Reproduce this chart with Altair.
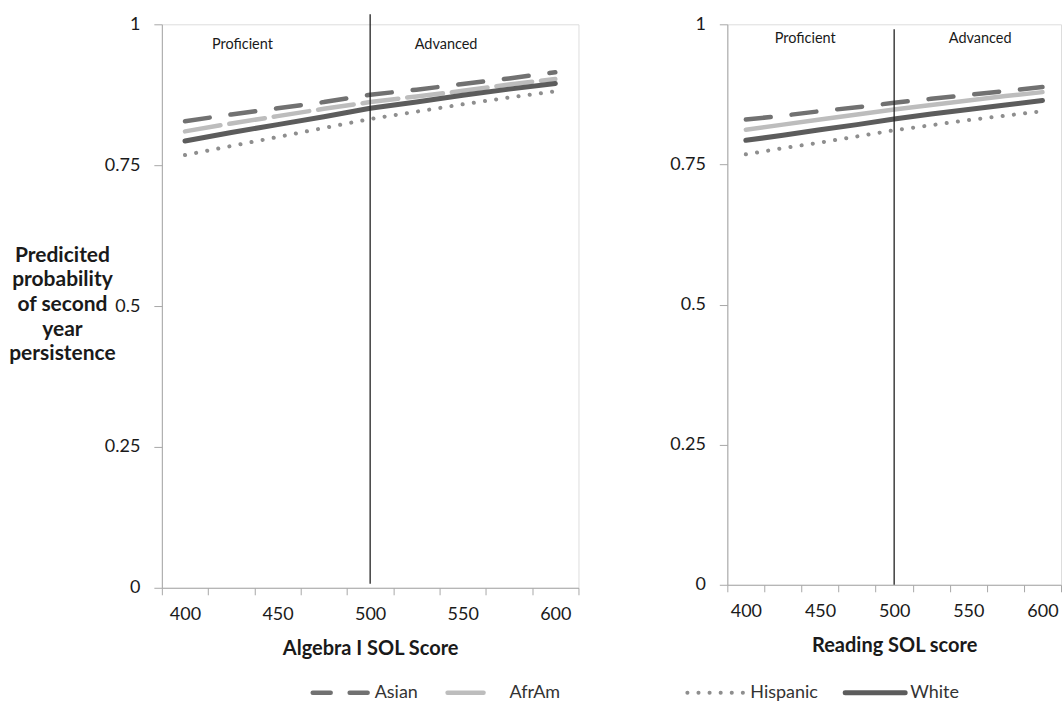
import altair as alt
import pandas as pd

# ---------------- data ----------------
scores = [400, 425, 450, 475, 500, 525, 550, 575, 600]
series = ["Asian", "AfrAm", "Hispanic", "White"]

alg_asian = [0.828, 0.840, 0.851, 0.862, 0.875, 0.884, 0.894, 0.904, 0.915]
alg_afram = [0.810, 0.824, 0.837, 0.850, 0.862, 0.872, 0.882, 0.893, 0.903]
alg_hisp = [0.768, 0.784, 0.800, 0.816, 0.832, 0.845, 0.858, 0.870, 0.881]
alg_white = [0.793, 0.808, 0.822, 0.836, 0.851, 0.862, 0.874, 0.885, 0.895]

read_asian = [0.830, 0.837, 0.845, 0.852, 0.860, 0.867, 0.874, 0.881, 0.888]
read_afram = [0.812, 0.821, 0.830, 0.839, 0.848, 0.856, 0.864, 0.872, 0.879]
read_hisp = [0.768, 0.779, 0.789, 0.800, 0.811, 0.820, 0.829, 0.837, 0.845]
read_white = [0.793, 0.802, 0.812, 0.821, 0.831, 0.840, 0.848, 0.856, 0.864]

x_tick_labels = [400, 450, 500, 550, 600]
y_ticks = [0, 0.25, 0.5, 0.75, 1]
cutoff = 500
band_labels = ["Proficient", "Advanced"]
alg_band_x = [431, 541]
alg_band_y = [0.963, 0.963]
read_band_x = [440, 558]
read_band_y = [0.973, 0.973]

left_title = "Algebra I SOL Score"
right_title = "Reading SOL score"
y_title = ["Predicited", "probability", "of second", "year", "persistence"]

# ---------------- style ----------------
FONT = "Lato"
TXT = "#1a1a1a"
AX = "#a8a8a8"
colors = {"Asian": "#717171", "AfrAm": "#bdbdbd", "Hispanic": "#8e8e8e", "White": "#5c5c5c"}
widths = {"Asian": 4.5, "AfrAm": 4.5, "Hispanic": 4, "White": 5}
dash_left = {"Asian": [25, 21], "AfrAm": [36, 9], "Hispanic": [0.1, 11.2], "White": None}
dash_right = {"Asian": [25, 21], "AfrAm": None, "Hispanic": [0.1, 11.2], "White": None}
LEG_Y = 669

step = 25
edges = [scores[0] - step / 2 + step * i for i in range(len(scores) + 1)]
x_domain = [edges[0], edges[-1]]


def x_axis(title):
    return alt.Axis(
        values=sorted(edges + x_tick_labels),
        labelExpr="datum.value % 50 == 0 ? format(datum.value, 'd') : ''",
        tickOpacity={"condition": {"test": "datum.value % 25 != 0", "value": 1}, "value": 0},
        labelOverlap=False, labelFlush=False, labelBound=False,
        title=title, titleFont=FONT, titleFontSize=20, titleFontWeight="bold",
        titleColor=TXT, titlePadding=15,
        labelFont=FONT, labelFontSize=18, labelColor=TXT, labelPadding=11,
        tickSize=7, tickColor=AX, domainColor=AX, grid=False,
    )


def y_axis(with_title):
    kw = dict(
        values=y_ticks, labelExpr="'' + datum.value",
        labelFont=FONT, labelFontSize=18, labelColor=TXT, labelPadding=14,
        tickSize=8, tickColor=AX, domainColor=AX, grid=False,
    )
    if with_title:
        kw.update(title=y_title, titleAngle=0, titleAlign="center", titleBaseline="top",
                  titleX=-100, titleY=220, titleLineHeight=24.7, titleFont=FONT,
                  titleFontSize=21, titleFontWeight="bold", titleColor=TXT)
    else:
        kw.update(title=None)
    return alt.Axis(**kw)


def panel(values, dashes, title, with_ytitle, band_x, band_y, w, h, rule_top, rule_bot, legend):
    df = pd.DataFrame({
        "score": scores * 4,
        "p": sum(values, []),
        "series": sum([[s] * len(scores) for s in series], []),
    })
    xs = alt.Scale(domain=x_domain, nice=False, zero=False)
    ys = alt.Scale(domain=[0, 1], nice=False)
    xa = x_axis(title)
    ya = y_axis(with_ytitle)
    layers = []
    for s in series:
        kw = dict(color=colors[s], strokeWidth=widths[s], strokeCap="round")
        if dashes[s] is not None:
            kw["strokeDash"] = dashes[s]
        layers.append(
            alt.Chart(df[df.series == s]).mark_line(**kw).encode(
                x=alt.X("score:Q", scale=xs, axis=xa),
                y=alt.Y("p:Q", scale=ys, axis=ya),
            )
        )
    cut = alt.Chart(pd.DataFrame({"score": [cutoff]})).mark_rule(color="#222", strokeWidth=1.3).encode(
        x=alt.X("score:Q", scale=xs, axis=xa), y=alt.value(rule_top), y2=alt.value(rule_bot))
    ann = alt.Chart(pd.DataFrame({"score": band_x, "p": band_y, "t": band_labels})).mark_text(
        font=FONT, fontSize=14.5, color=TXT).encode(
        x=alt.X("score:Q", scale=xs, axis=xa), y=alt.Y("p:Q", scale=ys, axis=ya), text="t:N")
    layers += [cut, ann]
    one = pd.DataFrame({"a": [0]})
    for (s, x0, x1, lx, dash) in legend:
        kw = dict(color=colors[s], strokeWidth=widths[s], strokeCap="round")
        if dash is not None:
            kw["strokeDash"] = dash
        layers.append(alt.Chart(one).mark_rule(**kw).encode(
            x=alt.value(x0), x2=alt.value(x1), y=alt.value(LEG_Y)))
        layers.append(alt.Chart(one).mark_text(
            font=FONT, fontSize=18, color="#333", align="left", baseline="middle").encode(
            x=alt.value(lx), y=alt.value(LEG_Y), text=alt.value(s)))
    return alt.layer(*layers).properties(width=w, height=h)


left = panel([alg_asian, alg_afram, alg_hisp, alg_white], dash_left, left_title, True,
             alg_band_x, alg_band_y, 417, 564, -10, 560,
             [("Asian", 151, 206, 213, [18, 19]), ("AfrAm", 286, 324, 348, [36, 9])])
right = panel([read_asian, read_afram, read_hisp, read_white], dash_right, right_title, False,
              read_band_x, read_band_y, 334, 561, 5, 561,
              [("Hispanic", -40, 16, 23, [0.1, 11]), ("White", 118, 178, 183, None)])

chart = alt.hconcat(left, right, spacing=89).properties(
    padding={"left": 8, "top": 12, "right": 0, "bottom": 0}
).configure_view(stroke=None).configure(font=FONT, background="white")

chart.save("out.html", embed_options={"renderer": "svg", "actions": False})
